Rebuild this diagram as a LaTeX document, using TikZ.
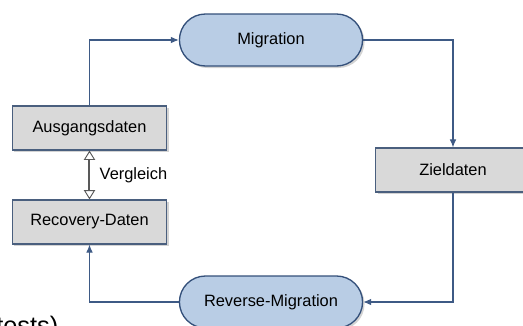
\documentclass[tikz,border=0pt]{standalone}
\usepackage{fontspec}
\setmainfont{Liberation Sans}
\usetikzlibrary{shapes.misc, arrows.meta, shadows}

\definecolor{boxfill}{HTML}{D9D9D9}
\definecolor{boxline}{HTML}{4A5F7E}
\definecolor{pillfill}{HTML}{B9CDE5}
\definecolor{pillline}{HTML}{34507A}
\definecolor{flowline}{HTML}{3E5A85}

\begin{document}
\begin{tikzpicture}[
    x=0.75pt, y=-0.75pt,
    font=\fontsize{12.3}{14}\selectfont,
    % --- Data Boxes ---
    data box/.style={
        draw=boxline,
        fill=boxfill,
        line width=0.9pt,
        minimum width=116pt,
        minimum height=33pt,
        drop shadow={opacity=0.35, shadow xshift=1.5pt, shadow yshift=-1.5pt}
    },
    % --- Process Pills ---
    process/.style={
        rounded rectangle,
        draw=pillline,
        fill=pillfill,
        line width=1pt,
        minimum width=144pt,
        minimum height=39pt,
        drop shadow={opacity=0.35, shadow xshift=1.5pt, shadow yshift=-1.5pt}
    },
    % --- Flow Arrows ---
    flow arrow/.style={
        -{Latex[length=6pt, width=5pt]},
        line width=0.8pt,
        color=flowline
    },
    % --- Comparison Arrow (tips + double shaft) ---
    compare tips/.style={
        {Triangle[open, length=7pt, width=8.5pt]}-{Triangle[open, length=7pt, width=8.5pt]},
        line width=0.7pt,
        draw=gray!70!black
    },
    compare shaft/.style={
        double=white,
        double distance=1.5pt,
        line width=0.7pt,
        draw=gray!70!black,
        shorten <=7pt,
        shorten >=7pt
    }
]
    \useasboundingbox (0,0) rectangle (523,325);

    % =========================================
    % 1. NODES
    % =========================================

    % Migration (top) and its reverse (bottom)
    \node[process] (migration) at (271, 40) {Migration};
    \node[process] (reverse) at (271, 302) {Reverse-Migration};

    % Data stores on the left
    \node[data box] (source) at (89.5, 128) {Ausgangsdaten};
    \node[data box] (recovery) at (89.5, 222) {Recovery-Daten};

    % Target data on the right
    \node[data box] (target) at (453, 170) {Zieldaten};

    % =========================================
    % 2. CYCLE
    % =========================================

    \draw[flow arrow] (source.north) |- (migration.west);
    \draw[flow arrow] (migration.east) -| (target.north);
    \draw[flow arrow] (target.south) |- (reverse.east);
    \draw[flow arrow] (reverse.west) -| (recovery.south);

    % Comparison between source and recovered data
    \draw[compare shaft] (source.south) -- (recovery.north);
    \draw[compare tips] (source.south) -- (recovery.north)
        node[midway, right=4pt, draw=none] (compare) {Vergleich};

    % Cut-off caption text
    \node[anchor=base west, font=\fontsize{19}{21}\selectfont, inner sep=0pt] (caption) at (-4, 334) {tests)};

\end{tikzpicture}
\end{document}
